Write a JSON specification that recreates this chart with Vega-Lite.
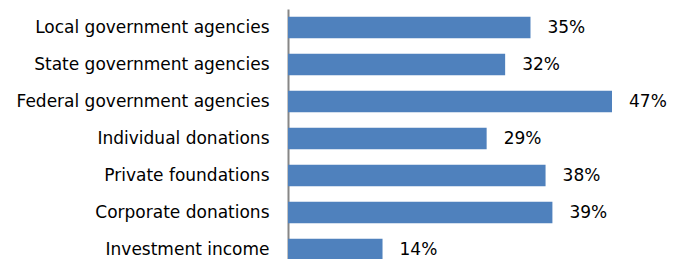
{
  "$schema": "https://vega.github.io/schema/vega-lite/v6.json",
  "autosize": "none",
  "padding": {"left": 288, "top": 9, "right": 48.5, "bottom": 0},
  "width": 342.5,
  "height": 259,
  "background": "white",
  "config": {"view": {"stroke": null}, "font": "DejaVu Sans"},
  "data": {"values": [
    {"source": "Local government agencies", "pct": 0.354, "label": "35%"},
    {"source": "State government agencies", "pct": 0.317, "label": "32%"},
    {"source": "Federal government agencies", "pct": 0.473, "label": "47%"},
    {"source": "Individual donations", "pct": 0.29, "label": "29%"},
    {"source": "Private foundations", "pct": 0.376, "label": "38%"},
    {"source": "Corporate donations", "pct": 0.386, "label": "39%"},
    {"source": "Investment income", "pct": 0.138, "label": "14%"}
  ]},
  "encoding": {
    "y": {"field": "source", "type": "nominal", "sort": null,
      "scale": {"paddingInner": 0.42, "paddingOuter": 0.21},
      "axis": {"title": null, "ticks": false, "domainColor": "#868686", "domainWidth": 2,
        "labelFontSize": 17, "labelColor": "#000000", "labelPadding": 19, "labelFont": "DejaVu Sans", "labelLimit": 300}},
    "x": {"field": "pct", "type": "quantitative", "scale": {"domain": [0, 0.5]}, "axis": null}
  },
  "layer": [
    {"mark": {"type": "bar", "color": "#4F81BD"}},
    {"mark": {"type": "text", "align": "left", "dx": 17, "fontSize": 17, "color": "#000000", "font": "DejaVu Sans"},
     "encoding": {"text": {"field": "label", "type": "nominal"}}}
  ]
}
